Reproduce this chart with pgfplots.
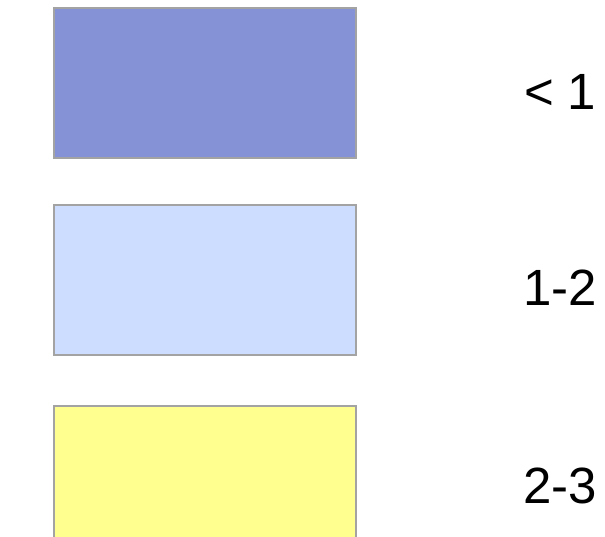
\documentclass[border=0pt]{standalone}
\usepackage{pgfplots}
\pgfplotsset{compat=1.18}
\usepackage{fontspec}
\setmainfont{Liberation Sans}
\definecolor{cLow}{HTML}{8593D6}
\definecolor{cMid}{HTML}{CCDDFF}
\definecolor{cHigh}{HTML}{FFFF8F}
\definecolor{edge}{HTML}{A3A3A3}
\begin{document}
\begin{tikzpicture}
\begin{axis}[
  scale only axis,
  width=6.05cm, height=5.37cm,
  xmin=0, xmax=605, ymin=0, ymax=537,
  y dir=reverse,
  hide axis,
  clip=true,
]
% background, keeps the page the full size
\addplot[draw=none, fill=white] coordinates {(0,0) (605,0) (605,537) (0,537)} -- cycle;
% swatches
\addplot[fill=cLow, draw=edge, line width=0.35pt] coordinates {(54,8) (356,8) (356,158) (54,158)} -- cycle;
\addplot[fill=cMid, draw=edge, line width=0.35pt] coordinates {(54,205) (356,205) (356,355) (54,355)} -- cycle;
\addplot[fill=cHigh, draw=none] coordinates {(54,406) (356,406) (356,537) (54,537)} -- cycle;
\addplot[draw=edge, line width=0.35pt] coordinates {(54,537) (54,406) (356,406) (356,537)};
% labels
\node[anchor=east, font=\fontsize{14.5}{17}\selectfont, inner sep=0pt] at (axis cs:597,92) {< 1};
\node[anchor=east, font=\fontsize{14.5}{17}\selectfont, inner sep=0pt] at (axis cs:598,288) {1-2};
\node[anchor=east, font=\fontsize{14.5}{17}\selectfont, inner sep=0pt] at (axis cs:598,486) {2-3};
\end{axis}
\end{tikzpicture}
\end{document}
